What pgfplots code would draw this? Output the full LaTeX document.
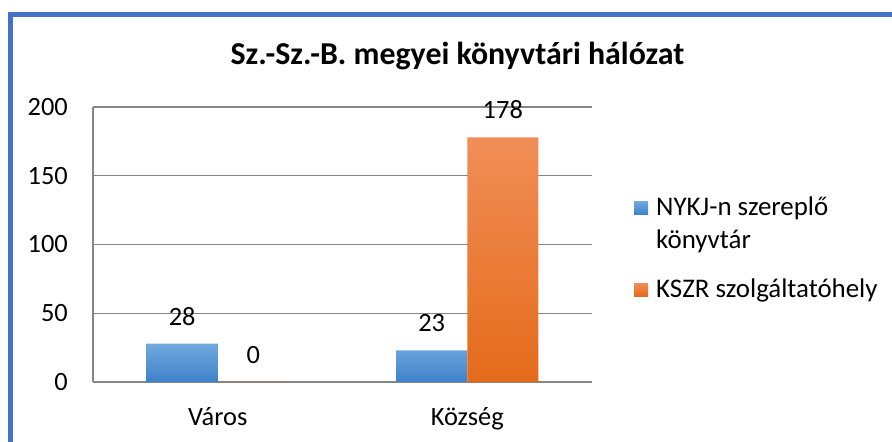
\documentclass[border=0pt]{standalone}
\usepackage{fontspec}
\setmainfont{Carlito}
\usepackage{pgfplots}
\pgfplotsset{compat=1.18}
\definecolor{frameblue}{RGB}{68,114,196}
\definecolor{gridgray}{RGB}{134,134,134}
\definecolor{bluetop}{RGB}{114,168,222}
\definecolor{bluebot}{RGB}{62,130,202}
\definecolor{orangetop}{RGB}{241,142,88}
\definecolor{orangebot}{RGB}{228,107,26}
\begin{document}
\begin{tikzpicture}[x=1bp,y=1bp]
\useasboundingbox (0,0) rectangle (892,-442);
\fill[white] (0,0) rectangle (892,-442);
\draw[frameblue, line width=5bp] (10.8,-442) -- (10.8,-14.7) -- (892,-14.7);
\node[anchor=base, inner sep=0pt, font=\fontsize{32}{38}\selectfont\bfseries] at (457.5,-65) {Sz.-Sz.-B. megyei könyvtári hálózat};
\begin{axis}[
  at={(93bp,-382bp)}, anchor=south west,
  width=499bp, height=275bp, scale only axis,
  xmin=-0.5, xmax=1.5, ymin=0, ymax=200,
  ybar=0pt, bar width=0.285,
  xtick={0,1}, xticklabels={Város,Község},
  ytick={0,50,100,150,200},
  axis x line*=bottom, axis y line*=left,
  axis line style={gridgray, line width=1.2bp, -},
  ymajorgrids, grid style={gridgray, line width=1.2bp},
  major tick length=0pt,
  /pgf/number format/assume math mode=true,
  tick label style={font=\fontsize{26.5}{31}\selectfont, inner sep=0pt},
  yticklabel style={anchor=east, xshift=-25bp},
  xticklabel style={anchor=base, yshift=-43bp},
  nodes near coords,
  every node near coord/.append style={font=\fontsize{26.5}{31}\selectfont, inner sep=0pt, anchor=south, yshift=18bp},
  legend style={at={(1.0842,0.6887)}, anchor=north west, draw=none, fill=none,
    inner sep=0pt, nodes={inner sep=0pt}, cells={anchor=base west}, column sep=8bp, row sep=0pt,
    font=\fontsize{27}{32}\selectfont},
]
\addplot[draw=none, top color=bluetop, bottom color=bluebot,
  legend image code/.code={\path[top color=bluetop, bottom color=bluebot] (0bp,1bp) rectangle (14bp,14bp);}]
  coordinates {(0,28) (1,23)};
\addlegendentry{\rule{0pt}{22.4bp}NYKJ-n szereplő}
\addlegendimage{legend image code/.code={\path[draw=none, fill=none] (0bp,1bp) rectangle (14bp,14bp);}}
\addlegendentry{\rule{0pt}{32bp}könyvtár}
\addplot[draw=none, top color=orangetop, bottom color=orangebot,
  legend image code/.code={\path[top color=orangetop, bottom color=orangebot] (0bp,1bp) rectangle (14bp,14bp);}]
  coordinates {(0,0) (1,178)};
\addlegendentry{\rule{0pt}{47bp}KSZR szolgáltatóhely}
\end{axis}
\end{tikzpicture}
\end{document}
